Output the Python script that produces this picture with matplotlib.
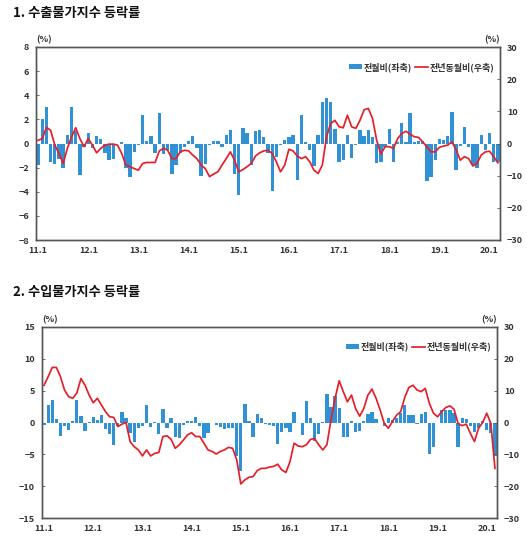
import matplotlib
matplotlib.use('Agg')
import matplotlib.pyplot as plt
import numpy as np

plt.rcParams['font.family'] = ['Noto Sans CJK KR', 'DejaVu Sans']

tick_labels = ['11.1', '12.1', '13.1', '14.1', '15.1', '16.1', '17.1', '18.1', '19.1', '20.1']

export_mom = [-1.8, 2.0, 3.0, -1.5, -1.7, -1.3, -2.0, 0.7, 3.0, 1.0, -2.6, -0.3,
              0.9, -0.4, 0.6, 0.4, -0.8, -1.4, -1.3, 0.0, 0.1, -2.0, -2.8, -0.7,
              -0.1, 2.4, 0.2, 0.6, -0.8, 2.5, -0.9, -0.5, -2.5, -1.8, -0.8, -0.3,
              0.2, 0.6, -0.4, -2.7, -1.7, -0.1, 0.2, 0.2, -0.3, 0.7, 1.1, -2.5,
              -4.3, 1.3, 0.9, -1.8, 1.0, 1.1, 0.5, -0.8, -3.9, -1.1, -0.1, 0.3,
              0.5, 0.7, -3.0, 2.4, 0.1, -0.5, -1.9, 0.7, 3.4, 3.8, 3.4, 1.2,
              -1.5, -1.4, 0.7, -1.2, -0.1, 1.1, 0.6, 1.1, 0.5, -1.6, -1.5, -0.3,
              1.2, -1.5, 0.1, 1.7, 0.1, 2.5, 0.1, 0.2, 0.2, -3.1, -2.8, -1.4,
              0.4, 0.3, 0.6, 2.6, -2.2, -0.2, 1.4, -0.3, -1.8, -2.0, 0.7, -0.5,
              0.9, -1.5, -1.5]

export_yoy = [1.0, 1.5, 5.0, 4.1, -0.5, -3.1, -6.2, -1.5, 2.0, 4.9, 1.5, -1.0,
              1.5, -0.5, -2.9, -1.5, -0.5, -0.2, -0.2, -0.5, -3.1, -6.7, -7.2, -7.8,
              -8.3, -6.2, -5.9, -5.9, -5.9, -2.3, -1.5, -2.1, -4.7, -4.7, -2.6, -2.1,
              -2.3, -3.6, -4.7, -6.7, -7.8, -10.3, -9.5, -8.8, -6.7, -4.7, -2.6, -5.2,
              -8.8, -8.1, -7.2, -6.2, -3.9, -2.9, -2.3, -2.1, -3.1, -5.7, -8.8, -6.7,
              -1.8, -2.3, -3.9, -4.7, -4.1, -5.7, -8.3, -9.3, -6.7, 2.1, 6.2, 7.2,
              5.2, 4.9, 8.8, 5.2, 4.7, 7.2, 10.5, 10.9, 7.8, 1.0, -3.3, -1.0,
              -1.0, -1.5, 1.5, 3.1, 3.8, 2.9, 2.1, 1.9, 0.5, -1.0, -2.6, -2.6,
              -1.2, -0.8, -0.5, 0.5, -1.9, -5.2, -4.1, -4.7, -7.0, -6.2, -3.6, -2.6,
              -2.4, -4.1, -6.0]

import_mom = [-0.4, 2.8, 3.6, 0.6, -2.1, -0.5, -1.2, 0.2, 3.5, 1.0, -1.4, 0.1,
              0.9, 0.4, 1.2, -1.0, -1.8, -3.6, -0.6, 1.7, 0.7, -1.6, -3.1, -0.9,
              -0.6, 2.7, -0.7, 0.1, -1.8, 2.1, -0.8, 0.7, -2.3, -2.4, -0.4, 0.3,
              0.2, 0.9, -0.5, -2.4, -1.6, 0.0, -0.4, -0.7, -1.0, -0.8, -0.8, -5.3,
              -7.6, 2.9, 0.3, -2.3, 1.4, 0.7, -0.3, -0.4, -0.5, -3.3, -1.5, -0.8,
              -1.5, 1.6, 0.0, -1.9, 3.4, 0.7, -2.9, -1.8, 0.1, 4.4, 2.5, 4.1,
              2.2, -2.2, -2.2, 0.3, -1.5, -1.3, 0.3, 1.3, 1.6, 0.5, -0.1, -0.6,
              0.7, 0.4, 0.7, 1.5, 2.8, 1.1, 1.1, -0.3, 1.4, 1.6, -4.9, -3.8,
              -0.1, 1.9, 1.9, 2.0, 1.5, -3.9, 0.7, 0.6, -0.5, -1.5, -0.8, 0.3,
              -1.1, -1.7, -5.3]

import_yoy = [11.7, 14.4, 17.3, 17.3, 14.4, 10.2, 8.1, 7.6, 9.3, 13.8, 11.7, 8.6,
              6.2, 7.6, 5.5, 3.4, 1.8, 1.6, -1.3, -0.5, 0.0, -6.0, -7.6, -8.6,
              -10.5, -8.6, -10.5, -9.7, -9.4, -4.4, -4.2, -5.3, -8.1, -7.0, -5.5, -3.9,
              -3.2, -4.4, -4.4, -6.5, -8.6, -9.1, -9.9, -9.1, -8.6, -7.8, -8.1, -11.7,
              -19.3, -18.0, -17.2, -17.0, -15.1, -14.4, -14.4, -14.0, -13.8, -13.1, -14.9, -15.7,
              -12.3, -6.5, -7.4, -7.6, -7.0, -5.3, -5.0, -7.0, -8.6, -7.0, 0.8, 7.6,
              13.1, 9.7, 6.5, 8.6, 4.4, 2.0, 4.4, 8.6, 10.5, 7.6, 3.9, -0.3,
              -1.8, 0.3, 2.3, 3.4, 7.9, 11.0, 11.7, 10.2, 9.7, 10.7, 6.0, 2.9,
              1.8, 3.4, 4.7, 5.2, 4.2, -0.3, -1.0, -0.5, -3.4, -6.0, -1.8, 0.0,
              2.9, -0.3, -14.4]

BAR_C = '#3092D4'
LINE_C = '#E5202A'
TXT_C = '#333333'
W, H = 530, 550

fig = plt.figure(figsize=(W / 100, H / 100), dpi=100)


def panel(x0, y0, x1, y1, bars, line, lmax, lstep, title, title_y):
    rect = [x0 / W, 1 - y1 / H, (x1 - x0) / W, (y1 - y0) / H]
    ax = fig.add_axes(rect)
    n = len(bars)
    months = np.arange(n)
    ax.bar(months, bars, width=0.8, color=BAR_C, label='전월비(좌축)', zorder=2)
    ax.set_xlim(-0.5, n - 0.5)
    ax.set_ylim(-lmax, lmax)
    ax.set_yticks(np.arange(-lmax, lmax + 0.1, lstep))
    ax.set_xticks(np.arange(0, n, 12))
    ax.set_xticklabels(tick_labels)
    ax2 = ax.twinx()
    ax2.plot(months, line, color=LINE_C, lw=1.25, label='전년동월비(우축)', zorder=3)
    ax2.set_ylim(-30, 30)
    ax2.set_yticks(np.arange(-30, 31, 10))
    for a in (ax, ax2):
        for s in a.spines.values():
            s.set_color('#555555')
            s.set_linewidth(1.0)
        a.tick_params(axis='y', direction='in', length=2, width=0.6, color='#555555',
                      labelsize=6.5, labelcolor=TXT_C, pad=5)
        for lab in a.get_yticklabels():
            lab.set_fontweight('bold')
    ax.tick_params(axis='x', length=0, labelsize=6.5, labelcolor=TXT_C, pad=4)
    for lab in ax.get_xticklabels():
        lab.set_fontweight('bold')
    h1, l1 = ax.get_legend_handles_labels()
    h2, l2 = ax2.get_legend_handles_labels()
    leg = ax2.legend(h1 + h2, l1 + l2, loc='upper right', bbox_to_anchor=(1.0, 0.95),
                     ncol=2, frameon=False, fontsize=6.5, handlelength=1.4,
                     handleheight=0.45, handletextpad=0.2, columnspacing=0.4,
                     borderaxespad=0.2)
    for t in leg.get_texts():
        t.set_fontweight('bold')
        t.set_color(TXT_C)
    fig.text((x0 + 8) / W, 1 - (y0 - 7) / H, '(%)', fontsize=6.5, fontweight='bold',
             color=TXT_C, ha='center', va='center')
    fig.text((x1 - 8) / W, 1 - (y0 - 7) / H, '(%)', fontsize=6.5, fontweight='bold',
             color=TXT_C, ha='center', va='center')
    fig.text(13 / W, 1 - title_y / H, title, fontsize=9.5, fontweight='bold',
             color='#111111', ha='left', va='center')
    return ax, ax2


panel(36, 47, 500, 240, export_mom, export_yoy, 8, 2, '1. 수출물가지수 등락률', 13)
panel(42, 327, 497, 518, import_mom, import_yoy, 15, 5, '2. 수입물가지수 등락률', 292)

fig.savefig('out.png', dpi=100)
